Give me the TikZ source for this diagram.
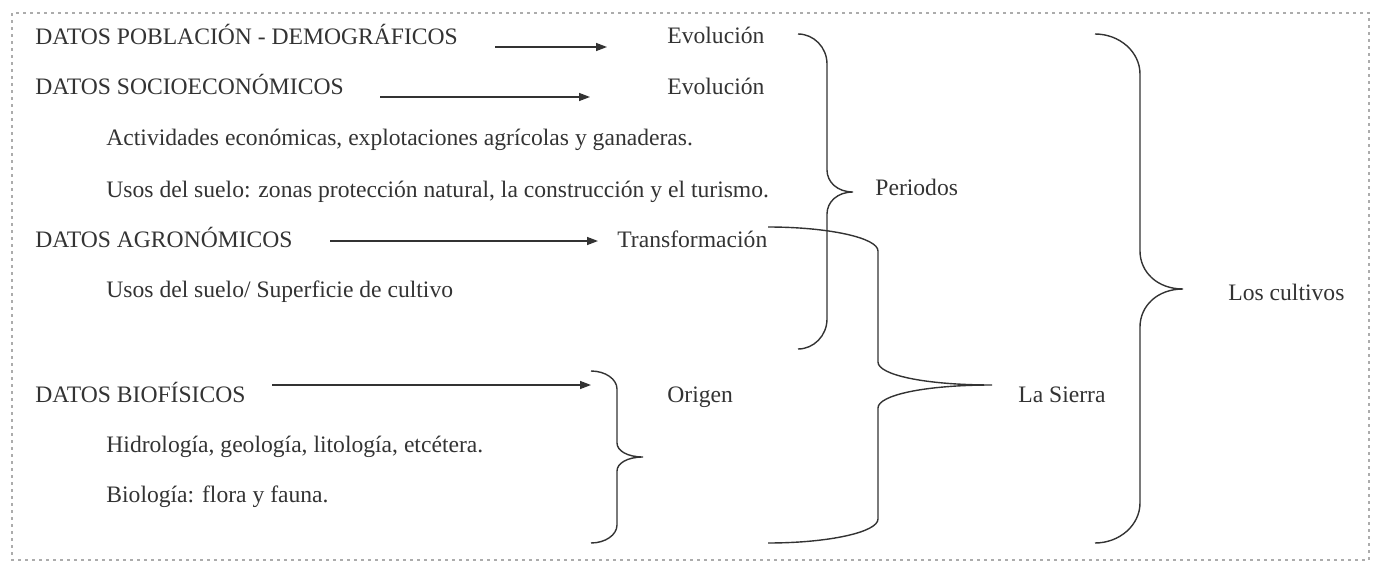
\documentclass[tikz,border=0pt]{standalone}
\usepackage{fontspec}
\setmainfont{Liberation Serif}
\usetikzlibrary{arrows.meta}
\definecolor{ink}{HTML}{333333}
\tikzset{
  txt/.style={anchor=base west, inner sep=0pt, text=ink, font=\fontsize{11.8}{14}\selectfont},
  arr/.style={draw=ink, line width=0.7pt, -{Triangle[length=5.5pt,width=4pt]}},
  bracestyle/.style={draw=ink, line width=0.7pt},
  frame/.style={draw=gray!65, line width=1.3pt, dash pattern=on 1.5pt off 2pt}
}
% #1 end x, #2 top y, #3 bottom y, #4 spine x, #5 tip x, #6 tip y, #7 end radius, #8 tip radius
\newcommand{\curlybrace}[8]{%
  \draw[bracestyle] (#1,#2) .. controls ({#1+0.55*(#4-#1)},#2) and (#4,{#2+0.45*#7}) .. (#4,{#2+#7})
    -- (#4,{#6-#8}) .. controls (#4,{#6-0.45*#8}) and ({#5-0.6*(#5-#4)},#6) .. (#5,#6)
    .. controls ({#5-0.6*(#5-#4)},#6) and (#4,{#6+0.45*#8}) .. (#4,{#6+#8})
    -- (#4,{#3-#7}) .. controls (#4,{#3-0.45*#7}) and ({#1+0.55*(#4-#1)},#3) .. (#1,#3);
}
\begin{document}
\begin{tikzpicture}[x=0.5pt, y=-0.5pt]
\useasboundingbox (0,0) rectangle (1378,562);

% Frame
\draw[frame] (12,13) rectangle (1369,560);

% Left column
\node[txt] (pob) at (35,44) {DATOS POBLACIÓN - DEMOGRÁFICOS};
\node[txt] (soc) at (35,94) {DATOS SOCIOECONÓMICOS};
\node[txt] (act) at (106,145) {Actividades económicas, explotaciones agrícolas y ganaderas.};
\node[txt] (usos) at (106,197) {Usos del suelo: zonas protección natural, la construcción y el turismo.};
\node[txt] (agro) at (35,247) {DATOS AGRONÓMICOS};
\node[txt] (sup) at (106,297) {Usos del suelo/ Superficie de cultivo};
\node[txt] (bio) at (35,402) {DATOS BIOFÍSICOS};
\node[txt] (hidro) at (106,452) {Hidrología, geología, litología, etcétera.};
\node[txt] (biol) at (106,502) {Biología: flora y fauna.};

% Middle column
\node[txt] (evol1) at (667,43) {Evolución};
\node[txt] (evol2) at (667,94) {Evolución};
\node[txt] (transf) at (617,247) {Transformación};
\node[txt] (origen) at (667,402) {Origen};
\node[txt] (periodos) at (875,195) {Periodos};
\node[txt] (sierra) at (1018,402) {La Sierra};
\node[txt] (cultivos) at (1228,300) {Los cultivos};

% Arrows
\coordinate (pobA) at (495,47);
\coordinate (pobB) at (607,47);
\coordinate (socA) at (380,97);
\coordinate (socB) at (590,97);
\coordinate (agroA) at (330,241);
\coordinate (agroB) at (598,241);
\coordinate (bioA) at (272,385);
\coordinate (bioB) at (591,385);
\draw[arr] (pobA) -- (pobB);
\draw[arr] (socA) -- (socB);
\draw[arr] (agroA) -- (agroB);
\draw[arr] (bioA) -- (bioB);

% Braces
\curlybrace{798}{34}{349}{827}{853}{192}{30}{22}
\curlybrace{591}{371}{543}{617}{643}{457}{18}{14}
\curlybrace{768}{227}{543}{878}{992}{385}{24}{23}
\curlybrace{1095}{34}{543}{1140}{1183}{289}{40}{38}
\end{tikzpicture}
\end{document}
